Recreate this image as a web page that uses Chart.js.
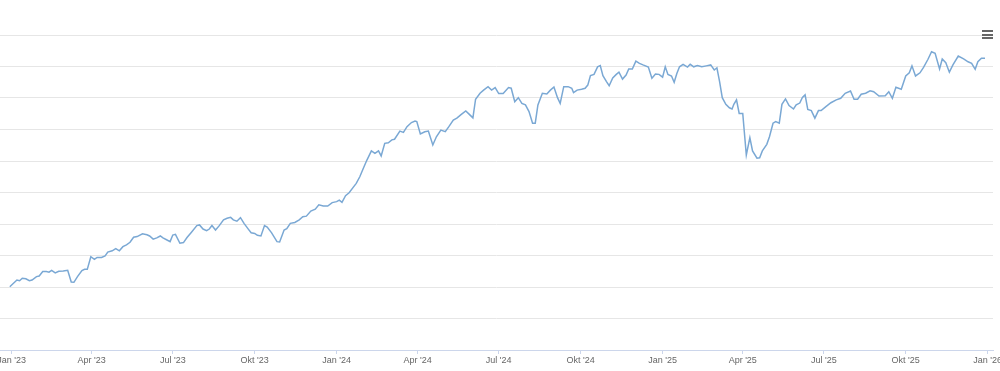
<!DOCTYPE html>
<html lang="de">
<head>
<meta charset="utf-8">
<title>Kursverlauf</title>
<script src="https://cdn.jsdelivr.net/npm/chart.js@4/dist/chart.umd.min.js"></script>
<style>
  html, body { margin: 0; padding: 0; background: #fff; }
  #wrap { position: relative; width: 1000px; height: 371px; }
  #menu { position: absolute; left: 982px; top: 30px; width: 11px; }
  #menu span { display: block; height: 2px; background: #666; margin-bottom: 1.5px; }
</style>
</head>
<body>
<div id="wrap">
  <canvas id="chart"></canvas>
  <div id="menu"><span></span><span></span><span></span></div>
</div>
<script>
/* ---- data (y axis labels are not visible, values are relative units) ---- */
const dates = [
  '2022-12-30','2023-01-07','2023-01-10','2023-01-13','2023-01-17','2023-01-21','2023-01-24','2023-01-29',
  '2023-02-01','2023-02-05','2023-02-09','2023-02-12','2023-02-15','2023-02-19','2023-02-23','2023-02-28',
  '2023-03-05','2023-03-09','2023-03-12','2023-03-16','2023-03-21','2023-03-24','2023-03-27','2023-03-31',
  '2023-04-04','2023-04-07','2023-04-12','2023-04-16','2023-04-19','2023-04-24','2023-04-28','2023-05-02',
  '2023-05-06','2023-05-10','2023-05-14','2023-05-18','2023-05-22','2023-05-28','2023-06-02','2023-06-05',
  '2023-06-09','2023-06-13','2023-06-17','2023-06-20','2023-06-24','2023-06-28','2023-07-01','2023-07-04',
  '2023-07-09','2023-07-13','2023-07-17','2023-07-22','2023-07-28','2023-07-31','2023-08-04','2023-08-08',
  '2023-08-11','2023-08-14','2023-08-18','2023-08-22','2023-08-27','2023-08-31','2023-09-04','2023-09-07',
  '2023-09-11','2023-09-15','2023-09-19','2023-09-24','2023-09-27','2023-10-01','2023-10-04','2023-10-08',
  '2023-10-12','2023-10-15','2023-10-20','2023-10-26','2023-10-29','2023-11-03','2023-11-06','2023-11-10',
  '2023-11-15','2023-11-20','2023-11-24','2023-11-28','2023-12-03','2023-12-08','2023-12-12','2023-12-17',
  '2023-12-22','2023-12-27','2024-01-01','2024-01-04','2024-01-07','2024-01-11','2024-01-15','2024-01-20',
  '2024-01-23','2024-01-27','2024-01-31','2024-02-04','2024-02-09','2024-02-13','2024-02-17','2024-02-20',
  '2024-02-24','2024-02-28','2024-03-03','2024-03-06','2024-03-12','2024-03-16','2024-03-20','2024-03-25',
  '2024-03-29','2024-03-31','2024-04-04','2024-04-09','2024-04-13','2024-04-18','2024-04-22','2024-04-27',
  '2024-05-02','2024-05-06','2024-05-11','2024-05-15','2024-05-20','2024-05-25','2024-05-29','2024-06-02',
  '2024-06-05','2024-06-10','2024-06-14','2024-06-19','2024-06-23','2024-06-27','2024-07-01','2024-07-06',
  '2024-07-12','2024-07-15','2024-07-19','2024-07-23','2024-07-27','2024-07-31','2024-08-04','2024-08-08',
  '2024-08-11','2024-08-14','2024-08-19','2024-08-24','2024-08-28','2024-09-01','2024-09-05','2024-09-08',
  '2024-09-12','2024-09-17','2024-09-21','2024-09-23','2024-09-27','2024-10-02','2024-10-06','2024-10-09',
  '2024-10-12','2024-10-16','2024-10-20','2024-10-23','2024-10-26','2024-10-30','2024-11-02','2024-11-06',
  '2024-11-10','2024-11-13','2024-11-17','2024-11-21','2024-11-24','2024-11-28','2024-12-02','2024-12-06',
  '2024-12-10','2024-12-16','2024-12-20','2024-12-24','2024-12-28','2025-01-01','2025-01-04','2025-01-07',
  '2025-01-11','2025-01-14','2025-01-17','2025-01-20','2025-01-24','2025-01-29','2025-02-01','2025-02-05',
  '2025-02-09','2025-02-14','2025-02-19','2025-02-24','2025-02-28','2025-03-03','2025-03-06','2025-03-09',
  '2025-03-13','2025-03-17','2025-03-20','2025-03-22','2025-03-25','2025-03-28','2025-04-01','2025-04-05',
  '2025-04-09','2025-04-12','2025-04-17','2025-04-20','2025-04-23','2025-04-28','2025-05-01','2025-05-05',
  '2025-05-08','2025-05-12','2025-05-15','2025-05-19','2025-05-23','2025-05-28','2025-05-31','2025-06-04',
  '2025-06-07','2025-06-10','2025-06-13','2025-06-17','2025-06-21','2025-06-25','2025-06-28','2025-07-03',
  '2025-07-09','2025-07-15','2025-07-20','2025-07-25','2025-07-31','2025-08-04','2025-08-08','2025-08-12',
  '2025-08-17','2025-08-22','2025-08-26','2025-09-01','2025-09-08','2025-09-12','2025-09-16','2025-09-20',
  '2025-09-26','2025-10-01','2025-10-05','2025-10-08','2025-10-12','2025-10-17','2025-10-21','2025-10-26',
  '2025-10-30','2025-11-03','2025-11-08','2025-11-11','2025-11-15','2025-11-19','2025-11-23','2025-11-29',
  '2025-12-05','2025-12-10','2025-12-14','2025-12-18','2025-12-21','2025-12-25','2025-12-29'
];

const values = [
  20.1, 22.2, 22.0, 22.8, 22.6, 22.0, 22.2, 23.3,
  23.5, 24.9, 24.9, 24.7, 25.3, 24.5, 25.0, 25.1,
  25.3, 21.6, 21.5, 23.3, 25.2, 25.6, 25.6, 29.6,
  28.8, 29.4, 29.4, 29.9, 31.1, 31.5, 32.2, 31.5,
  32.8, 33.4, 34.2, 35.8, 36.0, 36.9, 36.6, 36.2,
  35.2, 35.6, 36.2, 35.6, 35.0, 34.4, 36.5, 36.7,
  33.9, 34.1, 35.7, 37.4, 39.5, 39.7, 38.4, 37.9,
  38.4, 39.5, 38.1, 39.4, 41.3, 41.8, 42.1, 41.3,
  40.9, 42.0, 40.2, 38.3, 37.2, 37.0, 36.4, 36.2,
  39.5, 39.0, 37.2, 34.4, 34.3, 38.1, 38.5, 40.2,
  40.5, 41.3, 42.3, 42.5, 44.1, 44.7, 46.1, 45.7,
  45.7, 46.8, 47.1, 47.6, 46.9, 49.0, 49.9, 51.8,
  52.9, 55.0, 57.7, 60.3, 63.2, 62.4, 63.2, 61.6,
  65.6, 65.8, 66.7, 66.9, 69.5, 69.1, 70.9, 72.2,
  72.7, 72.5, 68.6, 69.3, 69.5, 65.1, 67.7, 69.8,
  69.3, 70.9, 73.0, 73.6, 74.8, 75.9, 74.8, 73.7,
  79.6, 81.5, 82.5, 83.6, 82.5, 83.3, 81.4, 81.4,
  83.3, 83.1, 78.8, 80.1, 78.3, 77.8, 75.7, 72.0,
  72.0, 77.8, 81.5, 81.3, 82.5, 83.5, 80.1, 78.3,
  83.6, 83.6, 83.1, 81.7, 82.5, 82.8, 83.1, 84.1,
  87.1, 87.5, 89.9, 90.3, 87.1, 85.2, 83.9, 86.4,
  87.5, 88.2, 86.0, 87.3, 89.2, 89.2, 91.7, 91.0,
  90.5, 89.8, 86.3, 87.6, 87.5, 86.6, 89.9, 87.5,
  87.0, 85.0, 87.8, 89.9, 90.7, 89.8, 90.7, 89.9,
  90.3, 89.9, 90.2, 90.5, 88.9, 89.6, 85.2, 80.1,
  78.0, 76.9, 76.5, 78.0, 79.4, 75.1, 75.1, 61.9,
  67.4, 63.2, 60.9, 61.0, 63.2, 65.3, 67.7, 72.0,
  72.5, 72.0, 78.0, 79.7, 77.6, 76.5, 77.8, 78.4,
  80.2, 81.0, 76.4, 76.0, 73.6, 76.0, 76.0, 77.2,
  78.5, 79.4, 79.9, 81.5, 82.2, 79.6, 79.6, 81.2,
  81.5, 82.3, 82.0, 80.6, 80.7, 82.0, 79.9, 83.4,
  82.8, 87.0, 88.0, 90.2, 87.0, 88.0, 89.7, 92.3,
  94.7, 94.2, 89.2, 92.4, 91.2, 88.2, 90.5, 93.3,
  92.4, 91.5, 91.0, 89.1, 91.5, 92.6, 92.6
];

const tickDates = [
  '2023-01-01','2023-04-01','2023-07-01','2023-10-01',
  '2024-01-01','2024-04-01','2024-07-01','2024-10-01',
  '2025-01-01','2025-04-01','2025-07-01','2025-10-01','2026-01-01'
];
const tickLabels = [
  "Jan '23","Apr '23","Jul '23","Okt '23",
  "Jan '24","Apr '24","Jul '24","Okt '24",
  "Jan '25","Apr '25","Jul '25","Okt '25","Jan '26"
];

const xFrom = '2022-12-19';
const xTo   = '2026-01-07';

/* ---- helpers ---- */
const DAY = 86400000;
const T0 = Date.UTC(2023, 0, 1);
function dayNum(s) { return (Date.parse(s) - T0) / DAY; }

const points = dates.map((d, i) => ({ x: dayNum(d), y: values[i] }));

const ctx = document.getElementById('chart').getContext('2d');
new Chart(ctx, {
  type: 'line',
  data: {
    datasets: [{
      data: points,
      borderColor: '#7aa8d4',
      borderWidth: 1.5,
      pointRadius: 0,
      tension: 0,
      fill: false
    }]
  },
  options: {
    responsive: true,
    maintainAspectRatio: false,
    animation: false,
    layout: { padding: { top: 35, right: 7, left: 0, bottom: 0 } },
    plugins: { legend: { display: false }, tooltip: { enabled: false } },
    scales: {
      x: {
        type: 'linear',
        min: dayNum(xFrom),
        max: dayNum(xTo),
        afterBuildTicks: scale => { scale.ticks = tickDates.map(d => ({ value: dayNum(d) })); },
        afterFit: scale => { scale.height = 21; scale.paddingLeft = 0; scale.paddingRight = 0; },
        grid: { drawOnChartArea: false, drawTicks: true, tickLength: 4, color: '#ccd6eb' },
        border: { display: true, color: '#ccd6eb' },
        ticks: {
          autoSkip: false,
          maxRotation: 0,
          padding: 1,
          color: '#666666',
          font: { family: '"Liberation Sans", Arial, sans-serif', size: 9 },
          callback: (v, i) => tickLabels[i]
        }
      },
      y: {
        min: 0,
        max: 100,
        afterFit: scale => { scale.width = 0; },
        ticks: { display: false, stepSize: 10 },
        grid: { color: '#e6e6e6', drawTicks: false },
        border: { display: false }
      }
    }
  }
});
</script>
</body>
</html>
